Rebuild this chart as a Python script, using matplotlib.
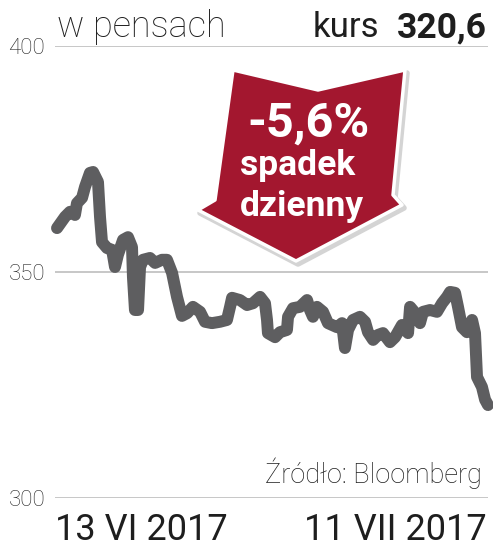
import matplotlib.pyplot as plt
from matplotlib.patches import Polygon

# === Dane (dni od 13 VI 2017, kurs w pensach) ===
days = [0.13, 0.65, 0.97, 1.29, 1.42, 1.75, 1.94, 2.26, 2.46, 2.78, 2.91, 3.04,
        3.36, 3.69, 3.88, 4.07, 4.40, 4.72, 4.98, 5.04, 5.17, 5.37, 5.50, 5.69,
        6.14, 6.47, 6.92, 7.24, 7.57, 7.89, 8.21, 8.54, 8.92, 9.38, 9.70, 10.15,
        10.67, 11.12, 11.32, 11.45, 11.96, 12.42, 12.80, 13.26, 13.58, 13.71,
        13.77, 14.23, 14.55, 15.00, 15.07, 15.39, 15.84, 16.30, 16.49, 16.68,
        16.94, 17.33, 17.65, 18.24, 18.56, 18.75, 18.95, 19.27, 19.72, 20.05,
        20.24, 20.57, 20.89, 21.21, 21.66, 21.99, 22.44, 22.83, 22.96, 23.28,
        23.60, 23.80, 24.25, 24.70, 25.03, 25.35, 25.55, 25.87, 26.06, 26.32,
        26.64, 26.97, 27.16, 27.29, 27.61, 27.81, 28.0]
prices = [359.7, 362.2, 363.3, 362.6, 365.2, 366.4, 368.8, 371.9, 372.1, 369.9,
          362.2, 356.6, 355.3, 354.9, 351.1, 353.8, 357.1, 357.7, 355.5, 348.9,
          341.6, 341.6, 351.1, 352.7, 353.1, 352.0, 352.7, 352.7, 349.8, 344.5,
          340.3, 340.9, 342.3, 341.2, 339.0, 338.7, 339.0, 339.4, 342.3, 344.3,
          343.8, 342.7, 343.1, 344.5, 343.1, 339.4, 336.5, 335.6, 336.7, 337.2,
          340.1, 342.0, 342.3, 343.8, 341.6, 340.1, 342.3, 341.2, 338.7, 337.8,
          338.7, 333.2, 337.2, 339.4, 340.1, 339.0, 336.7, 335.0, 336.1, 336.5,
          334.5, 335.6, 338.3, 336.5, 342.3, 341.0, 338.7, 341.2, 341.6, 341.2,
          343.1, 344.5, 345.6, 345.4, 342.3, 337.8, 336.7, 339.4, 336.5, 326.8,
          324.6, 321.8, 320.6]
yticks = [300, 350, 400]
date_labels = ["13 VI 2017", "11 VII 2017"]
last_price = "320,6"
change = "-5,6%"

W, H = 493, 549
fig = plt.figure(figsize=(W / 100, H / 100), dpi=100)


def fx(x):
    return x / W


def fy(y):
    return 1 - y / H


ax = fig.add_axes([fx(55), fy(498.3), (488 - 55) / W, (498.3 - 45.7) / H])
ax.plot(days, prices, color='#5e5e60', lw=8.6, solid_capstyle='round',
        solid_joinstyle='round', clip_on=False, zorder=3)
ax.set_xlim(0, 28)
ax.set_ylim(300, 400)
ax.set_yticks(yticks)
ax.set_yticklabels([str(v) for v in yticks], family='Roboto', weight='light',
                   fontsize=16, color='#222222')
ax.set_xticks([])
ax.tick_params(axis='y', length=0, pad=7)
ax.grid(axis='y', color='#b8b8b8', lw=1.1)
for s in ax.spines.values():
    s.set_visible(False)

# === Nagłówek ===
fig.text(fx(57), fy(37), "w pensach", family='Roboto', weight='light',
         fontsize=26, color='#1e1e1e', va='baseline')
fig.text(fx(313), fy(37), "kurs", family='Roboto', fontsize=25,
         color='#1e1e1e', va='baseline')
fig.text(fx(487), fy(37), last_price, family='Roboto', weight='bold',
         fontsize=25.5, color='#1e1e1e', va='baseline', ha='right')

# === Podpisy dat i źródło ===
fig.text(fx(55), fy(540), date_labels[0], family='Roboto', fontsize=26,
         color='#1e1e1e', va='baseline')
fig.text(fx(487), fy(540), date_labels[1], family='Roboto', fontsize=26,
         color='#1e1e1e', va='baseline', ha='right')
fig.text(fx(482), fy(483), "Źródło: Bloomberg", family='Roboto', weight='light',
         fontsize=19.5, color='#1e1e1e', va='baseline', ha='right')

# === Strzałka ===
arrow_px = [(233, 70), (318, 90), (405, 70), (393, 195), (402, 205),
            (296, 261), (198, 210), (215, 200)]
shadow = Polygon([(fx(x + 2), fy(y + 3)) for x, y in arrow_px], closed=True,
                 facecolor='#d4d4d4', edgecolor='#d4d4d4', lw=4,
                 transform=fig.transFigure, joinstyle='round', zorder=4)
arrow = Polygon([(fx(x), fy(y)) for x, y in arrow_px], closed=True,
                facecolor='#a3172f', edgecolor='white', lw=2.5,
                transform=fig.transFigure, joinstyle='round', zorder=5)
fig.add_artist(shadow)
fig.add_artist(arrow)

fig.text(fx(309), fy(137), change, family='Roboto', weight='bold', fontsize=35,
         color='white', ha='center', va='baseline', zorder=6)
fig.text(fx(298), fy(175), "spadek", family='Roboto', weight='bold',
         fontsize=25.5, color='white', ha='center', va='baseline', zorder=6)
fig.text(fx(302), fy(216), "dzienny", family='Roboto', weight='bold',
         fontsize=25.5, color='white', ha='center', va='baseline', zorder=6)

fig.savefig("out.png", dpi=100)
